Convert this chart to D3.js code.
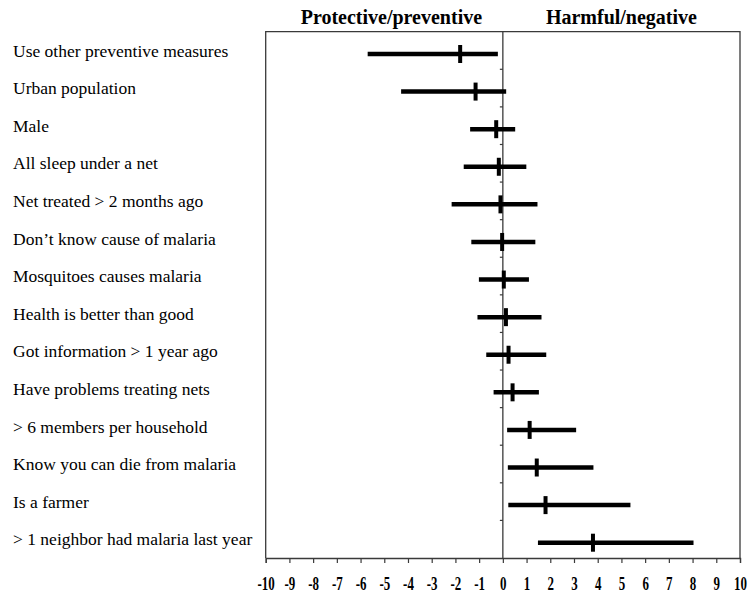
<!DOCTYPE html>
<html>
<head>
<meta charset="utf-8">
<script src="https://cdn.jsdelivr.net/npm/d3@7"></script>
<style>
  html, body { margin: 0; padding: 0; background: #fff; }
  svg { display: block; }
</style>
</head>
<body>
<svg id="chart" width="748" height="593"></svg>
<script>
const categories = [
  "Use other preventive measures",
  "Urban population",
  "Male",
  "All sleep under a net",
  "Net treated > 2 months ago",
  "Don\u2019t know cause of malaria",
  "Mosquitoes causes malaria",
  "Health is better than good",
  "Got information > 1 year ago",
  "Have problems treating nets",
  "> 6 members per household",
  "Know you can die from malaria",
  "Is a farmer",
  "> 1 neighbor had malaria last year"
];
const estimates = [-1.80, -1.15, -0.28, -0.17, -0.10, -0.03, 0.04, 0.13, 0.24, 0.41, 1.13, 1.43, 1.80, 3.80];
const lower     = [-5.70, -4.29, -1.38, -1.65, -2.16, -1.33, -1.01, -1.07, -0.70, -0.39, 0.18, 0.21, 0.23, 1.48];
const upper     = [-0.21,  0.14,  0.52,  0.99,  1.46,  1.37,  1.10,  1.63,  1.83,  1.52, 3.09, 3.82, 5.38, 8.04];
const xTicks = d3.range(-10, 11);
const headers = ["Protective/preventive", "Harmful/negative"];
const headerPos = [-4.7, 5];

(function () {
const data = categories.map((c, i) => ({ c, est: estimates[i], lo: lower[i], hi: upper[i] }));

const svg = d3.select("#chart");
const mLeft = 265.7, mRight = 740, mTop = 31.7, mBottom = 558;
const x = d3.scaleLinear().domain([-10, 10]).range([mLeft, mRight]);
const y = d3.scaleBand().domain(categories).range([mTop, mBottom]).paddingInner(0).paddingOuter(0);
const rowY = c => y(c) + y.bandwidth() / 2 + 3.5;

const frameColor = "#3a3a3a";
const serif = "'Liberation Serif', 'Times New Roman', serif";

// frame (left, top, right)
svg.append("path")
  .attr("d", `M${mLeft},${mBottom} V${mTop} H${mRight} V${mBottom}`)
  .attr("fill", "none").attr("stroke", frameColor).attr("stroke-width", 1.3);

// x axis
const xAxis = svg.append("g")
  .attr("transform", `translate(0,${mBottom})`)
  .call(d3.axisBottom(x).tickValues(xTicks).tickFormat(d => String(d)).tickSize(5).tickPadding(14));
xAxis.select(".domain").attr("stroke", frameColor).attr("stroke-width", 1.3);
xAxis.selectAll(".tick line").attr("stroke", frameColor).attr("stroke-width", 1.2);
xAxis.selectAll(".tick text")
  .attr("font-family", serif)
  .attr("font-weight", "bold")
  .attr("font-size", 18)
  .attr("fill", "#000")
  .attr("transform", "scale(0.72,1)");

// zero line with small y ticks at band boundaries
svg.append("line")
  .attr("x1", x(0)).attr("x2", x(0)).attr("y1", mTop).attr("y2", mBottom)
  .attr("stroke", frameColor).attr("stroke-width", 1.3);
svg.append("g").selectAll("line")
  .data(categories.slice(1))
  .join("line")
  .attr("x1", x(0) - 3).attr("x2", x(0))
  .attr("y1", d => y(d)).attr("y2", d => y(d))
  .attr("stroke", frameColor).attr("stroke-width", 1.2);

// headers
svg.append("g").selectAll("text")
  .data(headers)
  .join("text")
  .attr("x", (d, i) => x(headerPos[i]))
  .attr("y", 24)
  .attr("text-anchor", "middle")
  .attr("font-family", serif)
  .attr("font-weight", "bold")
  .attr("font-size", 20)
  .attr("fill", "#000")
  .text(d => d);

// category labels
svg.append("g").selectAll("text")
  .data(categories)
  .join("text")
  .attr("x", 13)
  .attr("y", d => y(d) + y.bandwidth() / 2)
  .attr("dy", "0.35em")
  .attr("font-family", serif)
  .attr("font-size", 17.5)
  .attr("fill", "#000")
  .text(d => d);

// CI lines
const g = svg.append("g");
g.selectAll("line.ci")
  .data(data)
  .join("line")
  .attr("class", "ci")
  .attr("x1", d => x(d.lo)).attr("x2", d => x(d.hi))
  .attr("y1", d => rowY(d.c)).attr("y2", d => rowY(d.c))
  .attr("stroke", "#000").attr("stroke-width", 4.5);

// point estimate markers
g.selectAll("line.est")
  .data(data)
  .join("line")
  .attr("class", "est")
  .attr("x1", d => x(d.est)).attr("x2", d => x(d.est))
  .attr("y1", d => rowY(d.c) - 9).attr("y2", d => rowY(d.c) + 9)
  .attr("stroke", "#000").attr("stroke-width", 4);
})();
</script>
</body>
</html>
